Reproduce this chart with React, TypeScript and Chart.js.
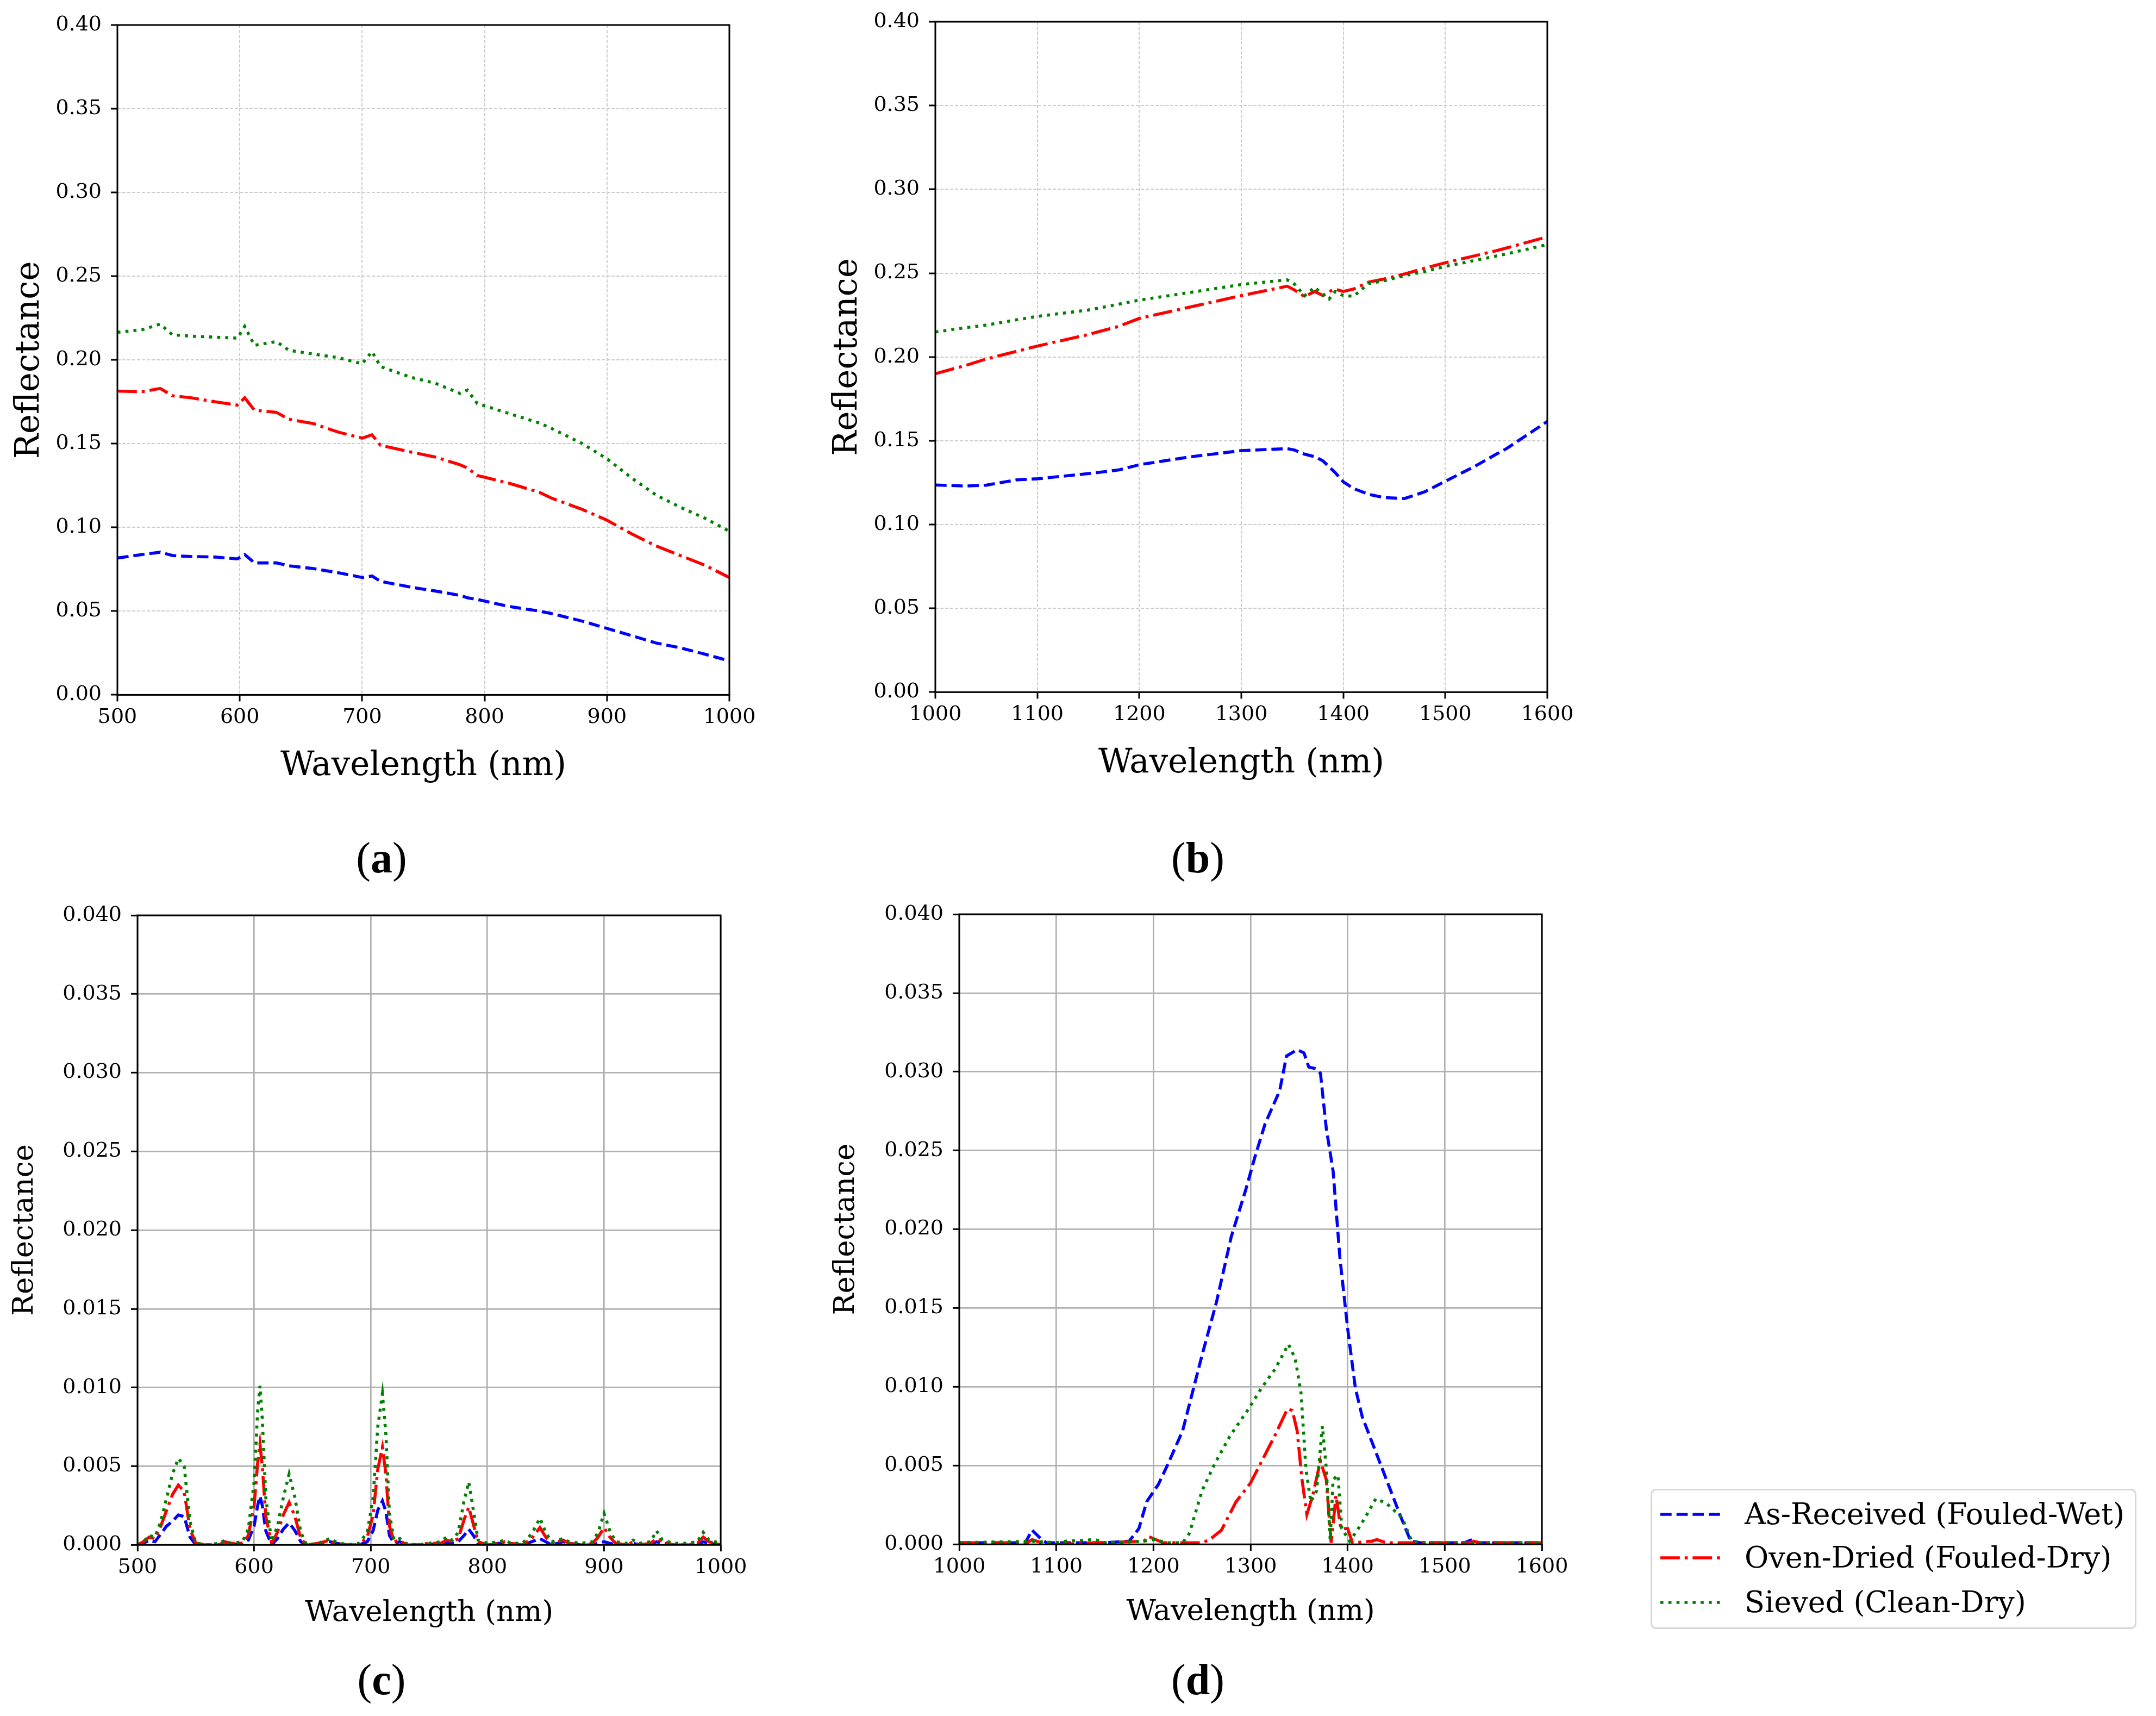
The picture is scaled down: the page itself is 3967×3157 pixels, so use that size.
import React, { useEffect, useRef } from 'react';
import { Chart, registerables } from 'chart.js';

Chart.register(...registerables);

const FONT = 'DejaVu Serif';
const LW = 5.6;

// series names, colours, dashes
const seriesNames = ['As-Received (Fouled-Wet)', 'Oven-Dried (Fouled-Dry)', 'Sieved (Clean-Dry)'];
const seriesColors = ['#0000ff', '#ff0000', '#008000'];
const seriesDash = [[3.7 * LW, 1.6 * LW], [6.4 * LW, 1.6 * LW, 1 * LW, 1.6 * LW], [1 * LW, 1.65 * LW]];

// tick labels
const xTicksVis = [500, 600, 700, 800, 900, 1000];
const xTicksNir = [1000, 1100, 1200, 1300, 1400, 1500, 1600];
const yTicksRefl = [0, 0.05, 0.1, 0.15, 0.2, 0.25, 0.3, 0.35, 0.4];
const yTicksSmall = [0, 0.005, 0.01, 0.015, 0.02, 0.025, 0.03, 0.035, 0.04];

// (a) visible range reflectance
const waveA = [500, 520, 535, 545, 560, 580, 598, 604, 612, 630, 640, 660, 680, 700, 708, 715, 740, 760, 780, 786, 794, 820, 845, 855, 880, 900, 920, 940, 960, 980, 1000];
const blueA = [0.0817, 0.0838, 0.0852, 0.0832, 0.0826, 0.0823, 0.0812, 0.0838, 0.0788, 0.0788, 0.0771, 0.0754, 0.073, 0.0701, 0.071, 0.0678, 0.0643, 0.062, 0.0594, 0.058, 0.057, 0.0528, 0.05, 0.0485, 0.044, 0.0397, 0.0354, 0.031, 0.0281, 0.0243, 0.0203];
const redA = [0.1814, 0.181, 0.183, 0.1786, 0.1774, 0.175, 0.173, 0.1774, 0.17, 0.1687, 0.1646, 0.162, 0.157, 0.1533, 0.1553, 0.149, 0.145, 0.142, 0.1374, 0.1355, 0.131, 0.1264, 0.1209, 0.1174, 0.1107, 0.1043, 0.0962, 0.089, 0.0832, 0.0774, 0.0701];
const greenA = [0.2165, 0.218, 0.2214, 0.215, 0.2142, 0.2136, 0.213, 0.22, 0.2087, 0.211, 0.2058, 0.2035, 0.2014, 0.1977, 0.205, 0.196, 0.1896, 0.186, 0.18, 0.182, 0.174, 0.168, 0.1623, 0.159, 0.15, 0.141, 0.1296, 0.1194, 0.112, 0.1055, 0.0977];

// (b) NIR reflectance
const waveB = [1000, 1030, 1050, 1080, 1100, 1150, 1180, 1200, 1250, 1300, 1345, 1352, 1362, 1372, 1380, 1386, 1392, 1400, 1410, 1425, 1440, 1460, 1480, 1500, 1530, 1550, 1560, 1600];
const blueB = [0.1236, 0.123, 0.1235, 0.1267, 0.1273, 0.1304, 0.1326, 0.1357, 0.1404, 0.1441, 0.1453, 0.1445, 0.142, 0.1405, 0.138, 0.1345, 0.131, 0.1255, 0.1215, 0.118, 0.1161, 0.1155, 0.1196, 0.1258, 0.1351, 0.142, 0.1453, 0.1615];
const redB = [0.19, 0.195, 0.1988, 0.2034, 0.2065, 0.2134, 0.2183, 0.223, 0.2298, 0.2366, 0.2422, 0.24, 0.236, 0.2391, 0.2366, 0.239, 0.2404, 0.2391, 0.2405, 0.2447, 0.2465, 0.2495, 0.253, 0.2562, 0.2605, 0.2634, 0.265, 0.2717];
const greenB = [0.2149, 0.2175, 0.219, 0.2222, 0.2242, 0.228, 0.2315, 0.2339, 0.2385, 0.2432, 0.246, 0.2435, 0.2365, 0.2416, 0.237, 0.2345, 0.239, 0.2366, 0.2362, 0.2438, 0.2455, 0.2485, 0.251, 0.254, 0.2577, 0.2602, 0.2615, 0.267];

// (c) visible range, small values
const waveC = [500, 505, 510, 515, 520, 525, 530, 535, 540, 545,
  550, 560, 570, 575, 580, 590, 595, 600, 603, 605,
  607, 610, 615, 620, 625, 630, 635, 640, 645, 655,
  665, 670, 680, 690, 697, 702, 706, 710, 713, 716,
  720, 725, 730, 740, 750, 760, 765, 770, 775, 780,
  784, 788, 792, 800, 810, 815, 820, 830, 838, 845,
  850, 855, 865, 870, 880, 890, 895, 900, 905, 910,
  920, 925, 930, 940, 945, 950, 960, 970, 980, 985,
  990, 1000];
const blueC = [0, 0.0001, 0.0003, 0.0002, 0.0007, 0.0012, 0.0015, 0.0019, 0.0018, 0.0005,
  0, 0, 0, 0.0002, 0, 0.0001, 0.0003, 0.0012, 0.0025, 0.0031,
  0.0025, 0.0009, 0, 0.0004, 0.001, 0.0014, 0.0009, 0.0002, 0, 0,
  0.0002, 0.0001, 0, 0, 0.0002, 0.0009, 0.0022, 0.0028, 0.0021, 0.0006,
  0.0001, 0.0002, 0, 0, 0, 0.0001, 0.0001, 0.0001, 0.0002, 0.0006,
  0.001, 0.0006, 0.0001, 0, 0.0001, 0.0001, 0, 0, 0.0002, 0.0004,
  0.0002, 0, 0.0002, 0.0001, 0, 0, 0.0001, 0.0002, 0.0001, 0,
  0, 0.0001, 0, 0, 0.0002, 0.0001, 0, 0, 0, 0.0002,
  0.0001, 0];
const redC = [0, 0.0002, 0.0005, 0.0004, 0.0012, 0.0022, 0.0032, 0.0038, 0.0034, 0.001,
  0.0001, 0, 0, 0.0002, 0.0001, 0.0001, 0.0006, 0.0025, 0.0052, 0.0064,
  0.005, 0.0018, 0.0001, 0.0008, 0.0019, 0.0027, 0.0018, 0.0004, 0, 0.0001,
  0.0003, 0.0001, 0, 0, 0.0005, 0.0019, 0.0048, 0.0062, 0.0045, 0.0012,
  0.0002, 0.0003, 0, 0, 0.0001, 0.0001, 0.0003, 0.0002, 0.0004, 0.0016,
  0.0024, 0.0013, 0.0002, 0, 0.0001, 0.0002, 0.0001, 0, 0.0004, 0.0011,
  0.0005, 0.0001, 0.0003, 0.0001, 0, 0.0001, 0.0005, 0.0011, 0.0005, 0.0001,
  0, 0.0002, 0, 0.0001, 0.0004, 0.0002, 0, 0, 0.0001, 0.0005,
  0.0002, 0];
const greenC = [0, 0.0002, 0.0006, 0.0005, 0.0015, 0.003, 0.0045, 0.0055, 0.005, 0.0015,
  0.0001, 0, 0.0001, 0.0003, 0.0001, 0.0002, 0.001, 0.004, 0.0085, 0.0101,
  0.008, 0.003, 0.0002, 0.0012, 0.003, 0.0045, 0.003, 0.0008, 0, 0.0001,
  0.0004, 0.0002, 0, 0.0001, 0.0008, 0.003, 0.0075, 0.0096, 0.007, 0.002,
  0.0003, 0.0004, 0.0001, 0, 0.0001, 0.0002, 0.0005, 0.0003, 0.0008, 0.0028,
  0.004, 0.0022, 0.0003, 0.0001, 0.0002, 0.0003, 0.0001, 0.0001, 0.0007, 0.0017,
  0.0008, 0.0002, 0.0004, 0.0002, 0.0001, 0.0002, 0.0008, 0.002, 0.0009, 0.0002,
  0.0001, 0.0003, 0.0001, 0.0002, 0.0009, 0.0003, 0.0001, 0.0001, 0.0002, 0.0008,
  0.0003, 0.0001];

// (d) NIR, small values (own wavelength grid per series)
const waveDBlue = [1000, 1050, 1068, 1075, 1085, 1090, 1100, 1150, 1175, 1185, 1193, 1205, 1215, 1230, 1250, 1265, 1280, 1295, 1305, 1315, 1325, 1330, 1337, 1348, 1355, 1360, 1367, 1372, 1378, 1385, 1392, 1400, 1408, 1415, 1425, 1440, 1455, 1465, 1475, 1500, 1520, 1528, 1535, 1600];
const blueD = [0.0001, 0.0001, 0.0001, 0.0009, 0.0003, 0.0001, 0.0001, 0.0001, 0.0002, 0.001, 0.0027, 0.0038, 0.0051, 0.0072, 0.012, 0.0154, 0.0195, 0.0225, 0.0247, 0.0267, 0.0281, 0.0288, 0.031, 0.0314, 0.0312, 0.0303, 0.0302, 0.0299, 0.0264, 0.0237, 0.0182, 0.0137, 0.0099, 0.0081, 0.0065, 0.0041, 0.0017, 0.0002, 0.0001, 0.0001, 0.0001, 0.0003, 0.0001, 0.0001];
const waveDRed = [1000, 1070, 1075, 1085, 1100, 1190, 1195, 1210, 1250, 1258, 1270, 1285, 1300, 1315, 1325, 1338, 1343, 1348, 1353, 1358, 1364, 1372, 1378, 1383, 1388, 1393, 1400, 1405, 1425, 1430, 1440, 1525, 1530, 1535, 1600];
const redD = [0.0001, 0.0001, 0.0003, 0.0001, 0, 0.0002, 0.0005, 0.0001, 0.0001, 0.0003, 0.0009, 0.0027, 0.0039, 0.0057, 0.0069, 0.0086, 0.0085, 0.0072, 0.0041, 0.0019, 0.0031, 0.0053, 0.0041, 0.0001, 0.0031, 0.001, 0.001, 0.0001, 0.0002, 0.0003, 0.0001, 0.0001, 0.0002, 0.0001, 0.0001];
const waveDGreen = [1000, 1075, 1100, 1110, 1140, 1150, 1190, 1200, 1215, 1230, 1237, 1250, 1263, 1279, 1298, 1311, 1325, 1339, 1346, 1352, 1357, 1362, 1368, 1374, 1378, 1382, 1385, 1390, 1394, 1402, 1410, 1418, 1429, 1440, 1456, 1466, 1480, 1600];
const greenD = [0.0001, 0.0002, 0.0001, 0.0002, 0.0003, 0.0001, 0.0002, 0.0003, 0.0001, 0.0001, 0.0007, 0.0034, 0.0051, 0.0069, 0.0086, 0.0099, 0.0111, 0.0127, 0.0118, 0.0096, 0.0048, 0.0027, 0.0034, 0.0075, 0.0048, 0.0003, 0.0041, 0.0044, 0.001, 0.0002, 0.0009, 0.0017, 0.0029, 0.0026, 0.0017, 0.0002, 0.0001, 0.0001];

type Series = { x: number[]; y: number[] };

type PanelProps = {
  series: Series[];
  xTicks: number[];
  yTicks: number[];
  yDecimals: number;
  // geometry on the page
  canvasLeft: number;
  canvasTop: number;
  canvasWidth: number;
  plotLeft: number;
  plotRight: number;
  plotTop: number;
  plotBottom: number;
  yTitleX: number;
  xTitleY: number;
  titleSize: number;
  dashedGrid: boolean;
};

// matplotlib-like frame round the plot area
const framePlugin = {
  id: 'frame',
  afterDatasetsDraw(chart: Chart) {
    const { ctx, chartArea } = chart;
    ctx.save();
    ctx.strokeStyle = '#000';
    ctx.lineWidth = 3;
    ctx.strokeRect(chartArea.left, chartArea.top, chartArea.right - chartArea.left, chartArea.bottom - chartArea.top);
    ctx.restore();
  },
};

const Panel: React.FC<PanelProps> = (p) => {
  const chartRef = useRef<HTMLCanvasElement>(null);
  const chartInstance = useRef<Chart | null>(null);

  const half = (p.titleSize * 1.2) / 2;
  const yAxisLeft = p.yTitleX - half;
  const yAxisWidth = p.plotLeft - yAxisLeft;
  const xAxisHeight = p.xTitleY + half - p.plotBottom;
  const canvasHeight = Math.round(p.plotBottom + xAxisHeight - p.canvasTop);

  useEffect(() => {
    if (!chartRef.current) return;
    const ctx = chartRef.current.getContext('2d');
    if (chartInstance.current) chartInstance.current.destroy();

    const grid = p.dashedGrid
      ? { color: '#cccccc', lineWidth: 2 }
      : { color: '#b0b0b0', lineWidth: 2.7 };

    chartInstance.current = new Chart(ctx as CanvasRenderingContext2D, {
      type: 'line',
      data: {
        datasets: p.series.map((s, i) => ({
          label: seriesNames[i],
          data: s.x.map((x, j) => ({ x, y: s.y[j] })),
          borderColor: seriesColors[i],
          borderDash: seriesDash[i],
          borderWidth: LW,
          pointRadius: 0,
          fill: false,
          tension: 0,
          order: 2 - i,
        })),
      },
      options: {
        responsive: false,
        animation: false,
        layout: {
          padding: {
            left: yAxisLeft - p.canvasLeft,
            right: p.canvasLeft + p.canvasWidth - p.plotRight,
            top: p.plotTop - p.canvasTop,
            bottom: 0,
          },
        },
        plugins: { legend: { display: false }, tooltip: { enabled: false } },
        scales: {
          x: {
            type: 'linear',
            min: p.xTicks[0],
            max: p.xTicks[p.xTicks.length - 1],
            afterBuildTicks: (s: any) => {
              s.ticks = p.xTicks.map((v) => ({ value: v }));
            },
            afterFit: (s: any) => {
              s.height = xAxisHeight;
            },
            ticks: {
              autoSkip: false,
              maxRotation: 0,
              padding: 7,
              color: '#000',
              font: { family: FONT, size: 38 },
              callback: (v: any) => String(v),
            },
            grid: {
              ...grid,
              drawTicks: true,
              tickLength: 12,
              tickColor: '#000',
              tickWidth: 3,
              tickBorderDash: [],
            },
            border: { display: false, dash: p.dashedGrid ? [6, 3] : [] },
            title: {
              display: true,
              text: 'Wavelength (nm)',
              color: '#000',
              padding: 0,
              font: { family: FONT, size: p.titleSize },
            },
          },
          y: {
            type: 'linear',
            min: p.yTicks[0],
            max: p.yTicks[p.yTicks.length - 1],
            afterBuildTicks: (s: any) => {
              s.ticks = p.yTicks.map((v) => ({ value: v }));
            },
            afterFit: (s: any) => {
              s.width = yAxisWidth;
            },
            ticks: {
              padding: 17,
              color: '#000',
              font: { family: FONT, size: 38 },
              callback: (v: any) => Number(v).toFixed(p.yDecimals),
            },
            grid: {
              ...grid,
              drawTicks: true,
              tickLength: 12,
              tickColor: '#000',
              tickWidth: 3,
              tickBorderDash: [],
            },
            border: { display: false, dash: p.dashedGrid ? [6, 3] : [] },
            title: {
              display: true,
              text: 'Reflectance',
              color: '#000',
              padding: 0,
              font: { family: FONT, size: p.titleSize },
            },
          },
        },
      } as any,
      plugins: [framePlugin],
    });

    return () => {
      if (chartInstance.current) {
        chartInstance.current.destroy();
        chartInstance.current = null;
      }
    };
  }, []);

  return (
    <canvas
      ref={chartRef}
      width={p.canvasWidth}
      height={canvasHeight}
      style={{ position: 'absolute', left: p.canvasLeft, top: p.canvasTop, width: p.canvasWidth, height: canvasHeight }}
    />
  );
};

const SubLabel: React.FC<{ letter: string; cx: number; cy: number }> = ({ letter, cx, cy }) => (
  <div
    style={{
      position: 'absolute',
      left: cx,
      top: cy,
      transform: 'translate(-50%, -50%)',
      fontFamily: 'Liberation Serif',
      fontSize: 80,
      lineHeight: 1,
      color: '#000',
      whiteSpace: 'nowrap',
    }}
  >
    (<b>{letter}</b>)
  </div>
);

const Legend: React.FC = () => {
  const rows = [44, 124, 206];
  return (
    <div
      style={{
        position: 'absolute',
        left: 3037,
        top: 2739,
        width: 894,
        height: 258,
        boxSizing: 'border-box',
        border: '3px solid #d6d6d6',
        borderRadius: 10,
        background: '#fff',
      }}
    >
      {seriesNames.map((name, i) => (
        <React.Fragment key={name}>
          <svg style={{ position: 'absolute', left: 15, top: rows[i] - 10 }} width={114} height={20}>
            <line
              x1={0}
              x2={111}
              y1={10}
              y2={10}
              stroke={seriesColors[i]}
              strokeWidth={LW}
              strokeDasharray={seriesDash[i].join(' ')}
            />
          </svg>
          <div
            style={{
              position: 'absolute',
              left: 170,
              top: rows[i] - 32,
              fontFamily: FONT,
              fontSize: 54,
              lineHeight: '64px',
              color: '#000',
              whiteSpace: 'nowrap',
            }}
          >
            {name}
          </div>
        </React.Fragment>
      ))}
    </div>
  );
};

export default function App() {
  return (
    <div style={{ position: 'absolute', left: 0, top: 0, width: 3967, height: 3157, background: '#fff', overflow: 'hidden' }}>
      <Panel
        series={[{ x: waveA, y: blueA }, { x: waveA, y: redA }, { x: waveA, y: greenA }]}
        xTicks={xTicksVis}
        yTicks={yTicksRefl}
        yDecimals={2}
        canvasLeft={0}
        canvasTop={0}
        canvasWidth={1450}
        plotLeft={216}
        plotRight={1342}
        plotTop={46}
        plotBottom={1278}
        yTitleX={55}
        xTitleY={1410}
        titleSize={61}
        dashedGrid
      />
      <Panel
        series={[{ x: waveB, y: blueB }, { x: waveB, y: redB }, { x: waveB, y: greenB }]}
        xTicks={xTicksNir}
        yTicks={yTicksRefl}
        yDecimals={2}
        canvasLeft={1450}
        canvasTop={0}
        canvasWidth={1500}
        plotLeft={1721}
        plotRight={2847}
        plotTop={40}
        plotBottom={1273}
        yTitleX={1560}
        xTitleY={1405}
        titleSize={61}
        dashedGrid
      />
      <Panel
        series={[{ x: waveC, y: blueC }, { x: waveC, y: redC }, { x: waveC, y: greenC }]}
        xTicks={xTicksVis}
        yTicks={yTicksSmall}
        yDecimals={3}
        canvasLeft={0}
        canvasTop={1600}
        canvasWidth={1450}
        plotLeft={253}
        plotRight={1326}
        plotTop={1684}
        plotBottom={2842}
        yTitleX={46}
        xTitleY={2968}
        titleSize={53}
        dashedGrid={false}
      />
      <Panel
        series={[{ x: waveDBlue, y: blueD }, { x: waveDRed, y: redD }, { x: waveDGreen, y: greenD }]}
        xTicks={xTicksNir}
        yTicks={yTicksSmall}
        yDecimals={3}
        canvasLeft={1450}
        canvasTop={1600}
        canvasWidth={1500}
        plotLeft={1765}
        plotRight={2837}
        plotTop={1682}
        plotBottom={2841}
        yTitleX={1557}
        xTitleY={2966}
        titleSize={53}
        dashedGrid={false}
      />
      <SubLabel letter="a" cx={702} cy={1578} />
      <SubLabel letter="b" cx={2204} cy={1578} />
      <SubLabel letter="c" cx={702} cy={3090} />
      <SubLabel letter="d" cx={2204} cy={3090} />
      <Legend />
    </div>
  );
}
